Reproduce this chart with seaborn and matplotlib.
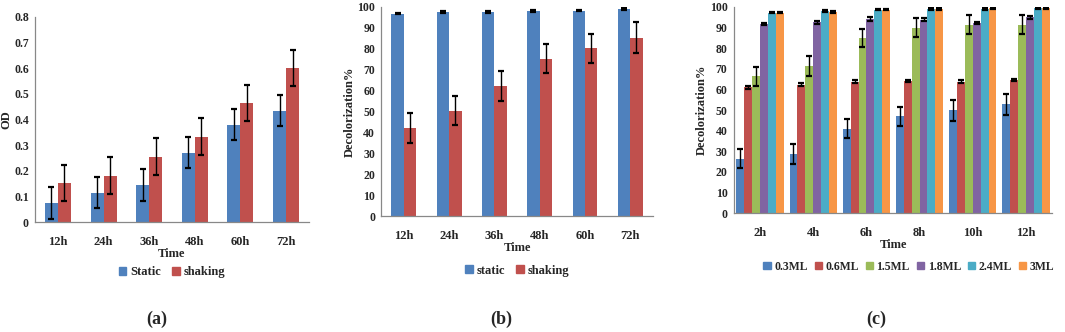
import numpy as np
import pandas as pd
import matplotlib
matplotlib.use("Agg")
import matplotlib.pyplot as plt
import seaborn as sns

# ---- data ----
times_a = ["12h", "24h", "36h", "48h", "60h", "72h"]
static_a = [0.075, 0.115, 0.145, 0.270, 0.380, 0.435]
static_a_err = [0.062, 0.060, 0.062, 0.060, 0.060, 0.062]
shaking_a = [0.152, 0.180, 0.255, 0.332, 0.465, 0.602]
shaking_a_err = [0.070, 0.072, 0.073, 0.072, 0.071, 0.071]

times_b = ["12h", "24h", "36h", "48h", "60h", "72h"]
static_b = [96.8, 97.5, 97.6, 98.0, 98.3, 99.0]
static_b_err = [0.3, 0.4, 0.5, 0.4, 0.4, 0.3]
shaking_b = [42.0, 50.3, 62.3, 75.3, 80.2, 85.3]
shaking_b_err = [7.2, 6.9, 7.2, 7.0, 7.0, 7.3]

times_c = ["2h", "4h", "6h", "8h", "10h", "12h"]
groups_c = ["0.3ML", "0.6ML", "1.5ML", "1.8ML", "2.4ML", "3ML"]
ml03 = [26.5, 28.5, 41.0, 47.0, 49.8, 52.8]
ml03_err = [4.8, 4.9, 4.5, 4.5, 5.0, 5.0]
ml06 = [61.0, 62.3, 63.7, 64.0, 63.8, 64.6]
ml06_err = [0.6, 0.6, 0.7, 0.5, 0.8, 0.5]
ml15 = [66.3, 71.3, 85.0, 90.0, 91.3, 91.3]
ml15_err = [4.8, 4.7, 4.5, 4.7, 4.6, 4.6]
ml18 = [91.8, 92.5, 94.0, 93.8, 92.3, 95.0]
ml18_err = [0.5, 0.6, 1.0, 0.8, 0.6, 0.6]
ml24 = [97.3, 98.0, 98.7, 99.0, 99.0, 99.3]
ml24_err = [0.4, 0.4, 0.4, 0.3, 0.3, 0.3]
ml3 = [97.3, 97.7, 98.7, 99.0, 99.3, 99.5]
ml3_err = [0.4, 0.4, 0.4, 0.3, 0.3, 0.3]

blue, red, green, purple, cyan, orange = "#4F81BD", "#C0504D", "#9BBB59", "#8064A2", "#4BACC6", "#F79646"

sns.set_theme(style="white")
plt.rcParams["font.family"] = ["Liberation Serif", "DejaVu Serif"]
plt.rcParams["font.weight"] = "bold"

fig = plt.figure(figsize=(10.65, 3.32), dpi=100)


def make_df(times, names, vals, errs):
    rows = []
    for n, v, e in zip(names, vals, errs):
        for t, vv, ee in zip(times, v, e):
            rows.append({"Time": t, "group": n, "value": vv, "err": ee})
    return pd.DataFrame(rows)


def panel(ax, df, names, colors, width, ylim, yticks, ylabel, capsize, legend_y,
          legend_dx=0.0, colsp=0.9, legsize=9):
    sns.barplot(data=df, x="Time", y="value", hue="group", hue_order=names,
                palette=colors, width=width, errorbar=None, ax=ax,
                saturation=1, edgecolor="none", linewidth=0, legend=False)
    for cont, n in zip(ax.containers, names):
        sub = df[df["group"] == n]
        xs = [p.get_x() + p.get_width() / 2 for p in cont.patches]
        ax.errorbar(xs, sub["value"].values, yerr=sub["err"].values, fmt="none",
                    ecolor="black", elinewidth=1.0, capsize=capsize, capthick=1.6)
    ncat = df["Time"].nunique()
    ax.set_xlim(-0.5, ncat - 0.5)
    ax.set_ylim(*ylim)
    ax.set_yticks(yticks)
    ax.set_yticklabels([("%g" % t) for t in yticks], fontsize=8.5, fontweight="bold")
    ax.set_xticks(range(ncat))
    ax.set_xticklabels(df["Time"].unique(), fontsize=9, fontweight="bold")
    ax.set_xticks(np.arange(-0.5, ncat, 1.0), minor=True)
    ax.tick_params(axis="x", which="major", length=0, pad=10)
    ax.tick_params(axis="x", which="minor", length=4, width=0.8, color="#888888", direction="out")
    ax.tick_params(axis="y", length=3, width=0.8, color="#888888", direction="out", pad=1.5)
    for s in ["top", "right"]:
        ax.spines[s].set_visible(False)
    for s in ["left", "bottom"]:
        ax.spines[s].set_color("#888888")
        ax.spines[s].set_linewidth(0.9)
    ax.set_xlabel("Time", fontsize=9, fontweight="bold", labelpad=0)
    ax.set_ylabel(ylabel, fontsize=9, fontweight="bold", labelpad=1)
    handles = [plt.Rectangle((0, 0), 1, 1, color=c) for c in colors]
    ax.legend(handles, names, loc="center", bbox_to_anchor=(0.5 + legend_dx, legend_y),
              ncol=len(names), frameon=False, handlelength=0.6, handleheight=0.6,
              handletextpad=0.3, columnspacing=colsp, borderaxespad=0,
              prop={"weight": "bold", "size": legsize})
    ax.grid(False)


# (a)
ax1 = fig.add_axes([0.033, 0.331, 0.257, 0.618])
df_a = make_df(times_a, ["Static", "shaking"], [static_a, shaking_a], [static_a_err, shaking_a_err])
panel(ax1, df_a, ["Static", "shaking"], [blue, red], 0.57, (0, 0.8),
      [0, 0.1, 0.2, 0.3, 0.4, 0.5, 0.6, 0.7, 0.8], "OD", 2.5, -0.245)

# (b)
ax2 = fig.add_axes([0.358, 0.349, 0.255, 0.630])
df_b = make_df(times_b, ["static", "shaking"], [static_b, shaking_b], [static_b_err, shaking_b_err])
panel(ax2, df_b, ["static", "shaking"], [blue, red], 0.55, (0, 100),
      list(range(0, 101, 10)), "Decolorization%", 2.5, -0.26)

# (c)
ax3 = fig.add_axes([0.689, 0.358, 0.299, 0.621])
df_c = make_df(times_c, groups_c, [ml03, ml06, ml15, ml18, ml24, ml3],
               [ml03_err, ml06_err, ml15_err, ml18_err, ml24_err, ml3_err])
panel(ax3, df_c, groups_c, [blue, red, green, purple, cyan, orange], 0.9, (0, 100),
      list(range(0, 101, 10)), "Decolorization%", 2.0, -0.26, legend_dx=0.05,
      colsp=0.6, legsize=8.5)

for x, lab in [(0.147, "(a)"), (0.471, "(b)"), (0.823, "(c)")]:
    fig.text(x, 0.037, lab, ha="center", va="center", fontsize=13, fontweight="bold")

fig.savefig("out.png", dpi=100)
